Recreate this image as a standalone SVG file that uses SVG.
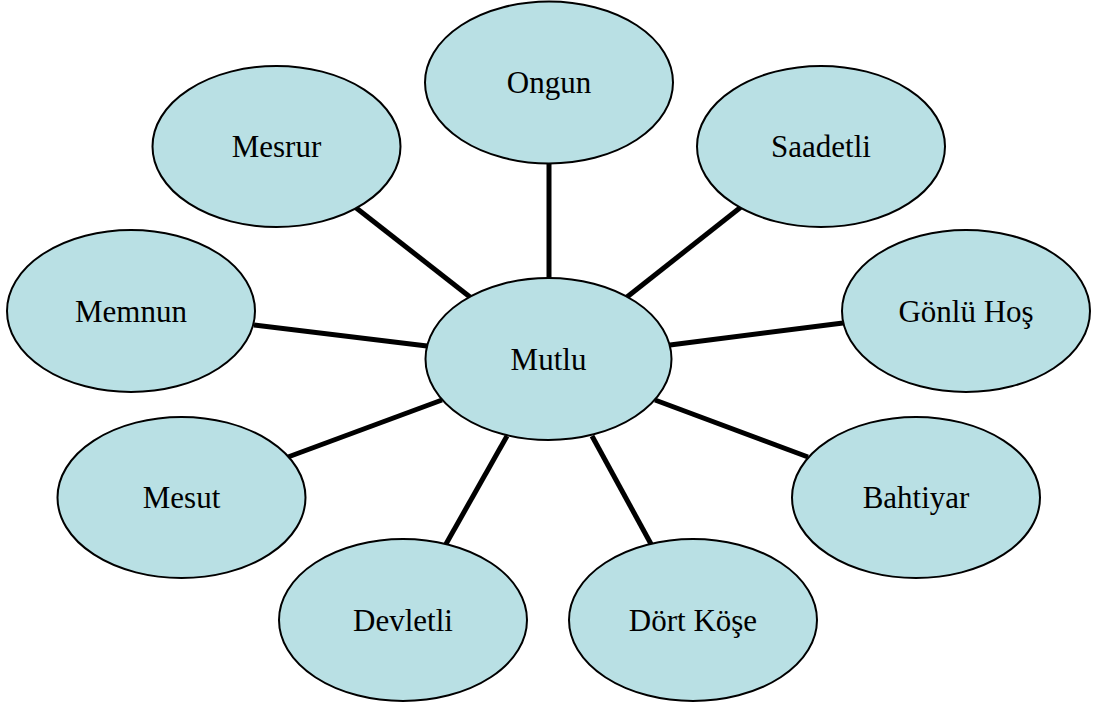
<svg xmlns="http://www.w3.org/2000/svg" width="1097" height="707" viewBox="0 0 1097 707">
<style>
.n ellipse{fill:#B9E0E4;stroke:#000;stroke-width:2}
.n text{font-family:"Liberation Serif","Times New Roman",serif;font-size:31px;fill:#000;text-anchor:middle}
#connectors line{stroke:#000;stroke-width:5;stroke-linecap:butt}
</style>
<rect width="1097" height="707" fill="#fff"/>
<g id="connectors">
<line x1="549" y1="163" x2="549" y2="279"/>
<line x1="355" y1="207" x2="470" y2="297"/>
<line x1="741" y1="207" x2="627" y2="297"/>
<line x1="254" y1="325" x2="427" y2="346"/>
<line x1="670" y1="345" x2="843" y2="323"/>
<line x1="288" y1="457" x2="442" y2="400"/>
<line x1="446" y1="544" x2="507" y2="436"/>
<line x1="808" y1="457" x2="655" y2="400"/>
<line x1="651" y1="544" x2="592" y2="436"/>
</g>
<g id="ongun" class="n"><ellipse cx="549" cy="82.5" rx="124" ry="81"/><text x="549" y="93">Ongun</text></g>
<g id="mesrur" class="n"><ellipse cx="276.5" cy="146.5" rx="124" ry="80.5"/><text x="276.5" y="157">Mesrur</text></g>
<g id="saadetli" class="n"><ellipse cx="821" cy="146.5" rx="124" ry="80.5"/><text x="821" y="157">Saadetli</text></g>
<g id="memnun" class="n"><ellipse cx="131" cy="311" rx="124" ry="81"/><text x="131" y="322">Memnun</text></g>
<g id="gonluhos" class="n"><ellipse cx="966" cy="311" rx="124" ry="81"/><text x="966" y="322">Gönlü Hoş</text></g>
<g id="mutlu" class="n"><ellipse cx="548.5" cy="359" rx="123" ry="81"/><text x="548.5" y="370">Mutlu</text></g>
<g id="mesut" class="n"><ellipse cx="181.5" cy="497.5" rx="124" ry="80.5"/><text x="181.5" y="508">Mesut</text></g>
<g id="bahtiyar" class="n"><ellipse cx="916" cy="497.5" rx="124" ry="80.5"/><text x="916" y="508">Bahtiyar</text></g>
<g id="devletli" class="n"><ellipse cx="403" cy="620" rx="124" ry="81"/><text x="403" y="631">Devletli</text></g>
<g id="dortkose" class="n"><ellipse cx="693" cy="620" rx="124" ry="81"/><text x="693" y="631">Dört Köşe</text></g>
</svg>
